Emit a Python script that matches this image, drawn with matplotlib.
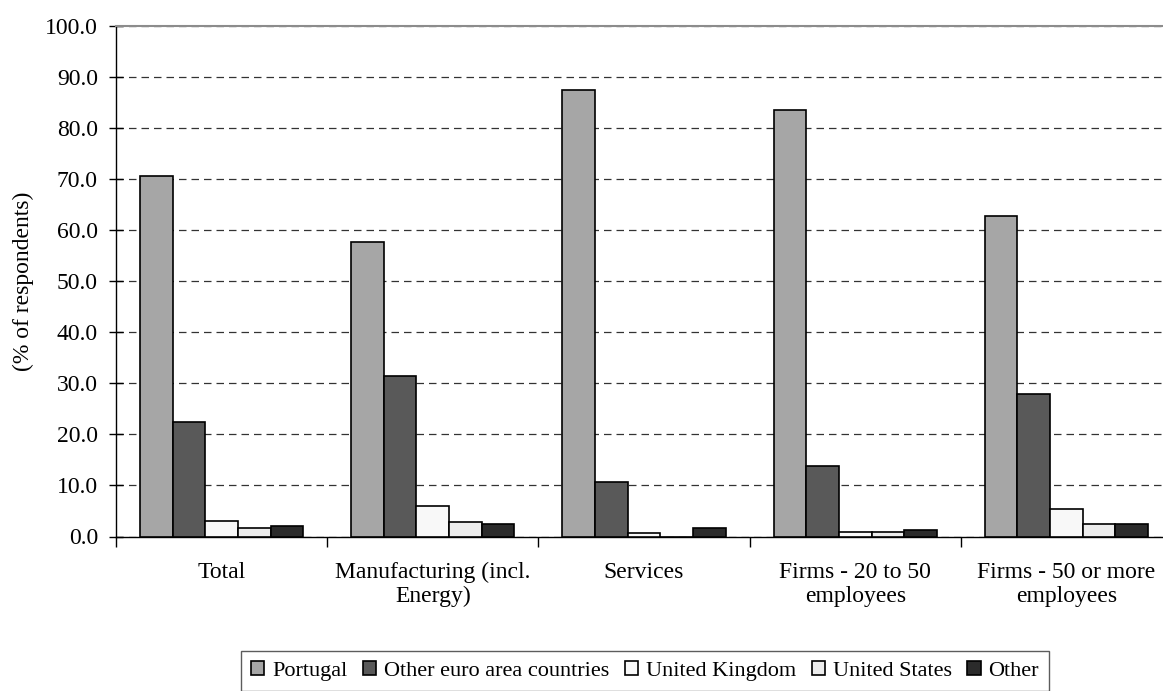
import numpy as np
import matplotlib.pyplot as plt

plt.rcParams['font.family'] = ['Liberation Serif', 'DejaVu Serif']

# Share of respondents by country group
categories = ['Total', 'Manufacturing (incl.\nEnergy)', 'Services',
              'Firms - 20 to 50\nemployees', 'Firms - 50 or more\nemployees']
series = ['Portugal', 'Other euro area countries', 'United Kingdom',
          'United States', 'Other']
portugal = [70.7, 57.7, 87.5, 83.6, 62.8]
other_euro = [22.5, 31.4, 10.6, 13.8, 27.9]
united_kingdom = [3.1, 5.9, 0.6, 0.9, 5.3]
united_states = [1.7, 2.8, 0.0, 0.9, 2.5]
other = [2.1, 2.5, 1.7, 1.3, 2.4]
yticks = [0, 10, 20, 30, 40, 50, 60, 70, 80, 90, 100]

values = [portugal, other_euro, united_kingdom, united_states, other]
colors = ['#a6a6a6', '#595959', '#f8f8f8', '#ececec', '#2b2b2b']
fs = 17

fig = plt.figure(figsize=(11.63, 6.91), dpi=100)
# plot area runs a little past the right edge of the figure
ax = fig.add_axes([116 / 1163, 154.5 / 691, 1056 / 1163, 510.5 / 691])

x = np.arange(len(categories))
width = 0.1545
for i, (name, vals, col) in enumerate(zip(series, values, colors)):
    ax.bar(x + (i - 2) * width, vals, width, color=col, edgecolor='black',
           linewidth=1.2, label=name, zorder=3)

ax.set_xlim(-0.5, len(categories) - 0.5)
ax.set_ylim(0, 100)
ax.set_yticks(yticks)
ax.set_yticklabels([f'{v:.1f}' for v in yticks])
ax.yaxis.grid(True, linestyle=(0, (6, 4)), color='#333333', linewidth=0.9,
              zorder=0)

# group boundaries as major ticks, names as minor ticks
ax.set_xticks(np.arange(len(categories) + 1) - 0.5)
ax.set_xticklabels([])
ax.set_xticks(x, minor=True)
ax.set_xticklabels(categories, minor=True)
ax.tick_params(axis='x', which='major', direction='out', length=7, width=1)
ax.tick_params(axis='x', which='minor', length=0, pad=18, labelsize=fs)
ax.tick_params(axis='y', direction='inout', length=10, width=1, pad=8,
               labelsize=fs)

for lab in ax.get_xticklabels(minor=True):
    lab.set_linespacing(1.2)

ax.spines['right'].set_visible(False)
ax.spines['top'].set_color('#8c8c8c')
ax.spines['top'].set_linewidth(1.5)
ax.spines['left'].set_linewidth(1)
ax.spines['bottom'].set_linewidth(1)

ax.set_ylabel('(% of respondents)', fontsize=fs)
ax.yaxis.set_label_coords(-0.078, 0.5)

leg = fig.legend(loc='upper left', bbox_to_anchor=(241 / 1163, 1 - 651 / 691),
                 ncol=5, fontsize=16, frameon=True, fancybox=False,
                 edgecolor='#333333', handlelength=0.6, handleheight=0.6,
                 handletextpad=0.35, columnspacing=0.7, borderpad=0.45,
                 borderaxespad=0)
leg.get_frame().set_linewidth(1)

fig.savefig('out.png', dpi=100)
